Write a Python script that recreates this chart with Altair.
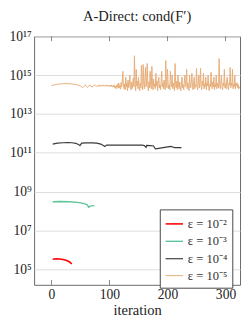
import altair as alt
import pandas as pd

# ---- data (log10 of cond(F')) ----
red_x = [2, 8, 14, 20, 25, 30, 33, 35]
red_y = [5.52, 5.54, 5.53, 5.5, 5.46, 5.4, 5.33, 5.27]

green_x = [2, 15, 30, 45, 55, 60, 62, 64, 66, 69, 74]
green_y = [8.48, 8.49, 8.48, 8.45, 8.4, 8.35, 8.3, 8.2, 8.24, 8.27, 8.28]

black_x = [2, 10, 20, 28, 35, 42, 47, 49, 52, 60, 70, 78, 85, 90, 92, 95, 110,
           130, 150, 156, 160, 163, 164, 170, 176, 179, 185, 195, 206, 209, 212, 224]
black_y = [11.45, 11.5, 11.52, 11.53, 11.52, 11.49, 11.42, 11.37, 11.5, 11.51,
           11.51, 11.5, 11.45, 11.36, 11.32, 11.4, 11.4, 11.4, 11.4, 11.4, 11.37,
           11.28, 11.38, 11.37, 11.35, 11.2, 11.23, 11.28, 11.33, 11.3, 11.27, 11.27]

orange_x_early = [0, 5, 10, 15, 20, 25, 30, 35, 40, 45, 50, 52, 54, 56, 58, 60,
                  62, 64, 66, 68, 70, 72, 74, 76, 78]
orange_y_early = [14.47, 14.5, 14.53, 14.55, 14.56, 14.56, 14.56, 14.55, 14.53,
                  14.5, 14.44, 14.4, 14.36, 14.42, 14.5, 14.44, 14.36, 14.42,
                  14.5, 14.44, 14.38, 14.45, 14.5, 14.44, 14.42]
orange_start_late = 80
orange_y_late = [
    14.45, 14.48, 14.42, 14.5, 14.46, 14.44, 14.49, 14.43, 14.47, 14.45,
    14.5, 14.44, 14.47, 14.42, 14.48, 14.45, 14.5, 14.43, 14.46, 14.44,
    14.48, 14.4, 14.46, 14.5, 14.42, 14.38, 14.47, 14.41, 14.5, 14.36,
    14.44, 14.3, 14.48, 14.38, 14.55, 14.32, 14.6, 14.35, 14.45, 14.28,
    14.62, 14.4, 14.7, 15.2, 14.5, 14.3, 14.55, 14.25, 14.9, 14.4,
    14.6, 14.2, 14.75, 14.35, 14.5, 15.0, 14.45, 14.25, 14.65, 14.3,
    14.55, 14.85, 14.4, 16.0, 14.6, 14.2, 15.3, 14.45, 14.7, 14.3,
    14.9, 14.4, 14.2, 14.6, 14.35, 15.5, 14.5, 14.25, 15.55, 14.6,
    14.3, 14.8, 15.4, 14.4, 14.7, 15.6, 14.45, 14.2, 14.65, 14.35,
    15.2, 14.5, 14.3, 15.45, 14.6, 14.25, 14.8, 14.4, 14.55, 14.3,
    15.1, 14.45, 14.7, 14.2, 14.6, 14.9, 14.35, 14.5, 14.25, 14.7,
    15.2, 14.4, 14.6, 14.3, 14.75, 14.45, 14.25, 15.75, 14.5, 14.35,
    15.3, 14.6, 14.3, 14.5, 14.25, 15.2, 14.55, 14.4, 15.0, 14.3,
    14.6, 14.45, 14.2, 15.6, 14.5, 14.35, 14.7, 14.25, 15.0, 14.5,
    14.3, 14.65, 14.4, 14.2, 14.6, 14.9, 14.35, 14.5, 14.25, 14.7,
    15.0, 14.4, 14.55, 15.3, 14.3, 14.6, 14.45, 14.2, 15.0, 14.5,
    14.35, 14.65, 15.1, 14.4, 14.25, 14.6, 14.9, 14.3, 14.5, 14.4,
    15.35, 14.5, 14.25, 14.6, 15.0, 14.35, 14.55, 15.35, 14.4, 14.25,
    14.7, 14.45, 15.1, 14.3, 14.55, 14.4, 14.9, 14.25, 14.6, 14.45,
    15.0, 14.35, 14.2, 14.55, 14.4, 15.15, 14.5, 14.3, 14.65, 14.4,
    14.9, 14.25, 14.55, 14.4, 15.0, 14.3, 14.6, 14.45, 14.35, 15.85,
    14.5, 14.3, 14.65, 15.0, 14.4, 14.25, 14.6, 14.45, 15.3, 14.35,
    14.55, 14.3, 14.7, 14.9, 14.4, 14.25, 14.6, 14.5, 15.4, 14.35,
    14.6, 14.45, 15.3, 14.3, 14.55, 14.4, 15.0, 14.3, 14.6, 14.45,
    14.6, 14.35, 14.5, 14.3, 14.4, 14.35,
]

labels = ["ε = 10⁻²", "ε = 10⁻³", "ε = 10⁻⁴", "ε = 10⁻⁵"]
colors = ["#ff0000", "#5cc49a", "#3a3a3a", "#e6ad78"]
widths = [1.6, 1.0, 1.0, 0.6]
x_ticks = [0, 100, 200, 300]
y_ticks = [1e5, 1e7, 1e9, 1e11, 1e13, 1e15, 1e17]

rows = []
for xs, ys, lab in [(red_x, red_y, labels[0]), (green_x, green_y, labels[1]),
                    (black_x, black_y, labels[2])]:
    for i, (a, b) in enumerate(zip(xs, ys)):
        rows.append({"it": a, "cond": 10 ** b, "eps": lab, "o": i})
orange_x = orange_x_early + list(range(orange_start_late, orange_start_late + len(orange_y_late)))
orange_y = orange_y_early + orange_y_late
for i, (a, b) in enumerate(zip(orange_x, orange_y)):
    rows.append({"it": a, "cond": 10 ** b, "eps": labels[3], "o": i})
df = pd.DataFrame(rows)

FONT = "Liberation Serif"
TXT = "#222222"

xscale = alt.Scale(domain=[-30, 325], nice=False, zero=False)
yscale = alt.Scale(type="log", domain=[10 ** 4.2, 1e17], nice=False)

lines = alt.Chart(df).mark_line(clip=True).encode(
    x=alt.X("it:Q", scale=xscale, title="iteration",
            axis=alt.Axis(values=x_ticks, ticks=False, domain=False, grid=False,
                          labelPadding=3, titlePadding=2,
                          labelFont=FONT, labelFontSize=14, labelColor=TXT,
                          titleFont=FONT, titleFontSize=15, titleFontWeight="normal",
                          titleColor=TXT)),
    y=alt.Y("cond:Q", scale=yscale, title=None,
            axis=alt.Axis(values=y_ticks, ticks=False, domain=False,
                          gridColor="#dddddd", gridWidth=1, labelPadding=3,
                          labelFont=FONT, labelFontSize=14, labelColor=TXT,
                          labelExpr="['10⁵','10⁷','10⁹','10¹¹','10¹³','10¹⁵','10¹⁷'][round((log(datum.value)/LN10-5)/2)]")),
    color=alt.Color("eps:N", scale=alt.Scale(domain=labels, range=colors),
                    legend=alt.Legend(title=None, orient="none", legendX=130, legendY=179,
                                      symbolType="stroke", symbolSize=324,
                                      symbolStrokeWidth=1.8, padding=5,
                                      strokeColor="#444444", fillColor="white",
                                      labelFontSize=13, labelFont=FONT, rowPadding=1,
                                      labelColor="#333333")),
    strokeWidth=alt.StrokeWidth("eps:N", scale=alt.Scale(domain=labels, range=widths), legend=None),
    order="o:Q",
    detail="eps:N",
)

tick_df = pd.DataFrame({"t": x_ticks})
ticks_bottom = alt.Chart(tick_df).mark_rule(color="#666666", strokeWidth=0.8).encode(
    x=alt.X("t:Q", scale=xscale), y=alt.value(252), y2=alt.value(257))
ticks_top = alt.Chart(tick_df).mark_rule(color="#666666", strokeWidth=0.8).encode(
    x=alt.X("t:Q", scale=xscale), y=alt.value(0), y2=alt.value(5))

chart = alt.layer(lines, ticks_bottom, ticks_top).properties(
    width=213, height=257,
    title=alt.Title("A-Direct: cond(F′)", font=FONT, fontSize=15, fontWeight="normal",
                    offset=6, color=TXT),
    autosize=alt.AutoSizeParams(type="none"),
    padding={"left": 27, "top": 24, "right": 1, "bottom": 29},
).configure_view(stroke="#666666", strokeWidth=1)

chart.save("out.html", embed_options={"renderer": "svg", "actions": False})
